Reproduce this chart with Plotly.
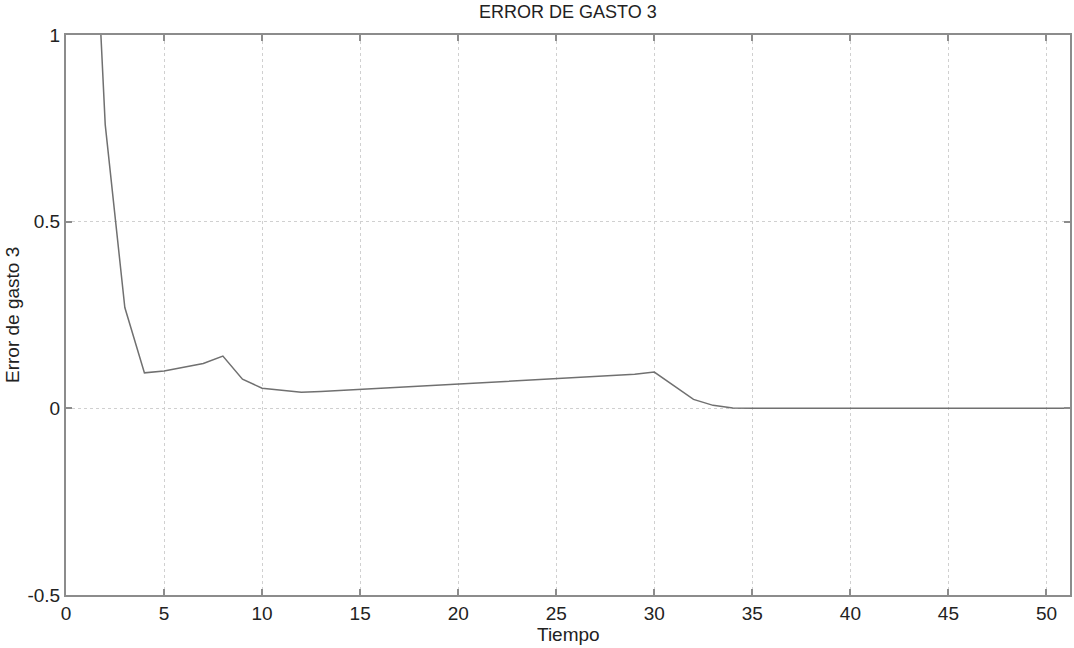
import plotly.graph_objects as go

# Data
tiempo = list(range(1, 53))
error_gasto3 = [
    1.85, 0.76, 0.27, 0.095, 0.10, 0.11, 0.12, 0.14, 0.078, 0.054,
    0.048, 0.043, 0.045, 0.048, 0.051, 0.054, 0.057, 0.060, 0.062, 0.064,
    0.067, 0.070, 0.073, 0.076, 0.079, 0.082, 0.085, 0.088, 0.091, 0.097,
    0.060, 0.024, 0.008, 0.001, 0.0, 0.0, 0.0, 0.0, 0.0, 0.0,
    0.0, 0.0, 0.0, 0.0, 0.0, 0.0, 0.0, 0.0, 0.0, 0.0,
    0.0, 0.0,
]
x_ticks = [0, 5, 10, 15, 20, 25, 30, 35, 40, 45, 50]
y_ticks = [-0.5, 0, 0.5, 1]
y_tick_text = ["-0.5", "0", "0.5", "1"]

FONT = "Liberation Sans, Arial, sans-serif"
AX = "#8c8c8c"

fig = go.Figure()
fig.add_trace(go.Scatter(
    x=tiempo, y=error_gasto3, mode="lines",
    line=dict(color="#707070", width=1.5),
    showlegend=False, hoverinfo="skip",
))

axis_common = dict(
    automargin=False,
    showline=True, linecolor=AX, linewidth=2, mirror="ticks",
    ticks="inside", ticklen=6, tickcolor=AX, tickwidth=1.5,
    showgrid=True, gridcolor="#d0d0d0", griddash="dot", gridwidth=1,
    zeroline=False,
    tickfont=dict(family=FONT, size=19, color="#222"),
)

fig.update_layout(
    width=1074, height=648,
    margin=dict(l=66, r=4, t=35, b=53),
    paper_bgcolor="white", plot_bgcolor="white",
    xaxis=dict(range=[0, 51.2], tickvals=x_ticks, **axis_common),
    yaxis=dict(range=[-0.5, 1], tickvals=y_ticks, ticktext=y_tick_text, **axis_common),
    annotations=[
        dict(text="ERROR DE GASTO 3", xref="paper", yref="paper", x=0.5, y=1,
             yshift=23, xanchor="center", yanchor="middle", showarrow=False,
             font=dict(family=FONT, size=18, color="#222")),
        dict(text="Tiempo", xref="paper", yref="paper", x=0.5, y=0,
             yshift=-39, xanchor="center", yanchor="middle", showarrow=False,
             font=dict(family=FONT, size=19, color="#222")),
        dict(text="Error de gasto 3", xref="paper", yref="paper", x=0, y=0.5,
             xshift=-54, xanchor="center", yanchor="middle", showarrow=False,
             textangle=-90, font=dict(family=FONT, size=19, color="#222")),
    ],
)

fig.write_html(
    "out.html",
    config={"displayModeBar": False},
    post_script="document.body.style.margin='0';document.body.style.overflow='hidden';",
)
